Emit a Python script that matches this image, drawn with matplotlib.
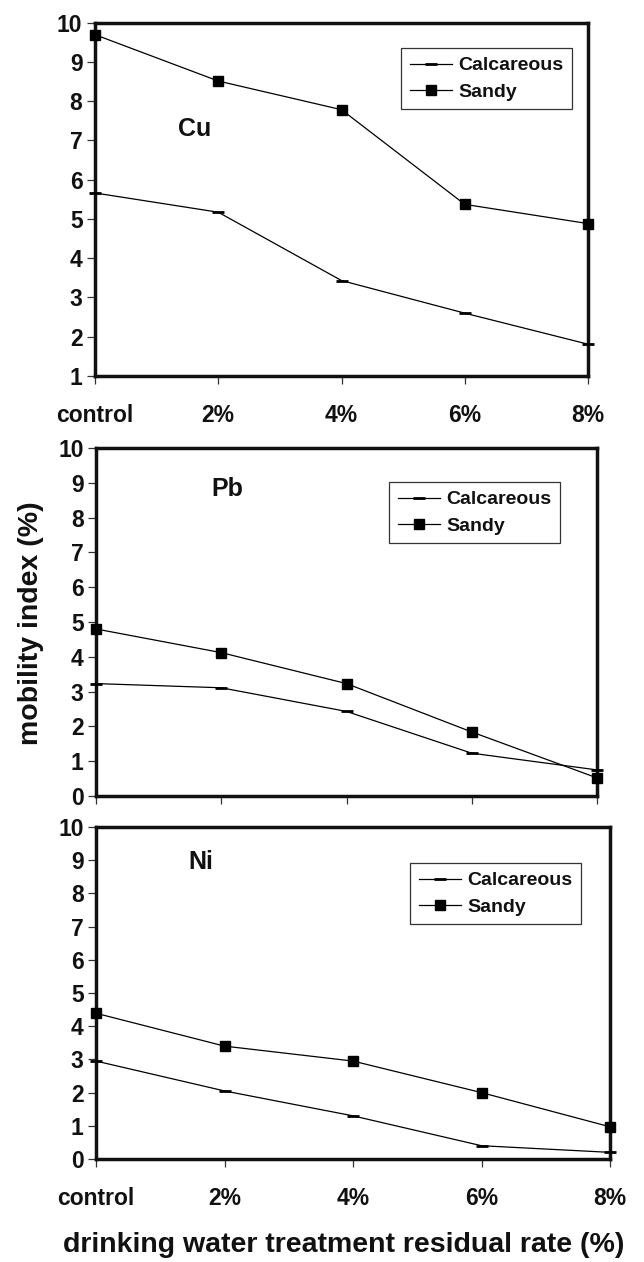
import matplotlib
matplotlib.use("Agg")
import matplotlib.pyplot as plt

plt.rcParams['font.family'] = ['Liberation Sans', 'DejaVu Sans']
plt.rcParams['font.weight'] = 'bold'

categories = ["control", "2%", "4%", "6%", "8%"]
series_names = ["Calcareous", "Sandy"]

cu_calcareous = [5.66, 5.17, 3.43, 2.60, 1.81]
cu_sandy = [9.69, 8.51, 7.78, 5.37, 4.88]
pb_calcareous = [3.23, 3.11, 2.43, 1.23, 0.75]
pb_sandy = [4.80, 4.12, 3.23, 1.84, 0.52]
ni_calcareous = [2.95, 2.05, 1.30, 0.40, 0.20]
ni_sandy = [4.39, 3.40, 2.95, 2.00, 0.97]

metals = ["Cu", "Pb", "Ni"]
y_ticks_top = [1, 2, 3, 4, 5, 6, 7, 8, 9, 10]
y_ticks_other = [0, 1, 2, 3, 4, 5, 6, 7, 8, 9, 10]

W, H = 644, 1262
fig = plt.figure(figsize=(W / 100, H / 100), dpi=100)


def px_axes(left, right, top, bottom):
    return fig.add_axes([left / W, 1 - bottom / H, (right - left) / W, (bottom - top) / H])


panels = [
    dict(box=(95, 588, 22.5, 376), calc=cu_calcareous, sandy=cu_sandy, name=metals[0],
         ylim=(1, 10), yticks=y_ticks_top, xlabels=True, label_pos=(0.203, 0.70),
         leg=(572, 48)),
    dict(box=(96, 597, 448, 796), calc=pb_calcareous, sandy=pb_sandy, name=metals[1],
         ylim=(0, 10), yticks=y_ticks_other, xlabels=False, label_pos=(0.263, 0.882),
         leg=(560, 482)),
    dict(box=(96, 610, 827, 1159), calc=ni_calcareous, sandy=ni_sandy, name=metals[2],
         ylim=(0, 10), yticks=y_ticks_other, xlabels=True, label_pos=(0.204, 0.895),
         leg=(581, 863)),
]

x = list(range(len(categories)))

for p in panels:
    ax = px_axes(*p['box'])
    ax.plot(x, p['calc'], color='black', lw=0.9, marker='_', ms=8, mew=2,
            label=series_names[0], clip_on=False, zorder=3)
    ax.plot(x, p['sandy'], color='black', lw=0.9, marker='s', ms=7.5,
            label=series_names[1], clip_on=False, zorder=3)
    ax.set_xlim(0, len(categories) - 1)
    ax.set_ylim(*p['ylim'])
    ax.set_yticks(p['yticks'])
    ax.set_xticks(x)
    if p['xlabels']:
        ax.set_xticklabels(categories)
    else:
        ax.set_xticklabels([])
    for s in ax.spines.values():
        s.set_linewidth(2.5)
        s.set_color('#111111')
    ax.tick_params(axis='both', direction='out', length=6, width=0.9,
                   labelsize=16.5, color='#333333', labelcolor='#111111')
    ax.tick_params(axis='y', pad=3)
    ax.tick_params(axis='x', pad=14)
    for t in ax.get_xticklabels() + ax.get_yticklabels():
        t.set_fontweight('bold')
    ax.text(p['label_pos'][0], p['label_pos'][1], p['name'], transform=ax.transAxes,
            ha='center', va='center', fontsize=18, fontweight='bold', color='#111111')
    lx, ly = p['leg']
    leg = ax.legend(loc='upper right', bbox_to_anchor=(lx / W, 1 - ly / H),
                    bbox_transform=fig.transFigure, borderaxespad=0,
                    frameon=True, fancybox=False, framealpha=1,
                    edgecolor='#333333', handlelength=2.2, handletextpad=0.3,
                    labelspacing=0.45, borderpad=0.45, prop={'weight': 'bold', 'size': 14})
    leg.get_frame().set_linewidth(0.9)
    for t in leg.get_texts():
        t.set_color('#111111')

fig.text(31 / W, 1 - 623 / H, "mobility index (%)", rotation=90, ha='center', va='center',
         fontsize=20.5, fontweight='bold', color='#111111')
fig.text(344 / W, 1 - 1245 / H, "drinking water treatment residual rate (%)",
         ha='center', va='center', fontsize=20.5, fontweight='bold', color='#111111')

fig.savefig("out.png", dpi=100)
